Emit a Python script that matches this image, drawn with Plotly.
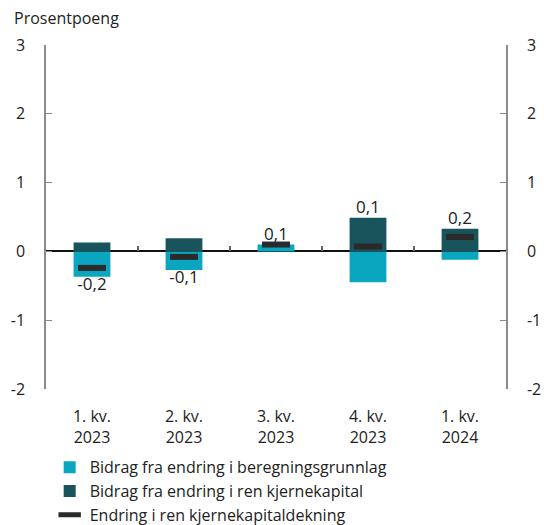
import plotly.graph_objects as go

categories = ["1. kv.<br>2023", "2. kv.<br>2023", "3. kv.<br>2023", "4. kv.<br>2023", "1. kv.<br>2024"]
grunnlag = [-0.37, -0.27, 0.10, -0.45, -0.12]
kjernekapital = [0.13, 0.19, 0.00, 0.49, 0.33]
dekning = [-0.24, -0.08, 0.10, 0.07, 0.21]
y_ticks = [-2, -1, 0, 1, 2, 3]

LIGHT = "#0aa5be"
DARK = "#19535b"
MARK = "#2a2a2a"
TXT = "#222222"
FONT = "Open Sans"

def fmt(v):
    return f"{v:.1f}".replace(".", ",")

label_y = []
label_pos = []
for g, k, d in zip(grunnlag, kjernekapital, dekning):
    pos = max(g, 0) + max(k, 0)
    neg = min(g, 0) + min(k, 0)
    if d >= 0:
        label_y.append(pos)
        label_pos.append("top center")
    else:
        label_y.append(neg)
        label_pos.append("bottom center")

fig = go.Figure()
fig.add_trace(go.Bar(x=categories, y=grunnlag, name="Bidrag fra endring i beregningsgrunnlag",
                     marker=dict(color=LIGHT, line=dict(width=0)), width=0.4))
fig.add_trace(go.Bar(x=categories, y=kjernekapital, name="Bidrag fra endring i ren kjernekapital",
                     marker=dict(color=DARK, line=dict(width=0)), width=0.4))
fig.add_trace(go.Scatter(x=categories, y=dekning, name="Endring i ren kjernekapitaldekning",
                         mode="markers", xaxis="x2",
                         marker=dict(symbol="line-ew", size=20, color=MARK,
                                     line=dict(width=6, color=MARK))))
fig.add_trace(go.Scatter(x=categories, y=label_y, mode="text", text=[fmt(v) for v in dekning],
                         textposition=label_pos, textfont=dict(size=17, color=TXT, family=FONT),
                         showlegend=False, hoverinfo="skip", cliponaxis=False))
fig.add_trace(go.Scatter(x=categories, y=dekning, yaxis="y2", mode="markers",
                         marker=dict(opacity=0), showlegend=False, hoverinfo="skip"))

fig.update_layout(
    width=544, height=525,
    margin=dict(l=46, r=38, t=45, b=136, autoexpand=False),
    barmode="relative",
    plot_bgcolor="white", paper_bgcolor="white",
    font=dict(family=FONT, size=16, color=TXT),
    xaxis=dict(type="category", categoryorder="array", categoryarray=categories,
               showline=False, showgrid=False, ticks="", tickfont=dict(size=16, color=TXT),
               ticklabelstandoff=16, range=[-0.5, 4.5]),
    xaxis2=dict(type="category", categoryorder="array", categoryarray=categories,
                overlaying="x", anchor="free", position=0.4, side="bottom",
                showline=False, showgrid=False, showticklabels=False,
                ticks="inside", tickson="boundaries", ticklen=5, tickcolor="#666666", tickwidth=1.5,
                range=[-0.5, 4.5]),
    yaxis=dict(range=[-2, 3], tickvals=y_ticks, ticktext=[str(v) for v in y_ticks],
               showgrid=False, showline=True, linecolor="#8a8a8a", linewidth=1.5,
               ticks="inside", ticklen=6, tickcolor="#8a8a8a", ticklabelstandoff=16,
               zeroline=True, zerolinecolor="#111111", zerolinewidth=1.5,
               tickfont=dict(size=16, color=TXT)),
    yaxis2=dict(range=[-2, 3], tickvals=y_ticks, ticktext=[str(v) for v in y_ticks],
                overlaying="y", side="right", showgrid=False, showline=True,
                linecolor="#8a8a8a", linewidth=1.5, ticks="inside", ticklen=6, tickcolor="#8a8a8a",
                ticklabelstandoff=16, zeroline=False, tickfont=dict(size=16, color=TXT)),
    legend=dict(orientation="v", x=0.008, xanchor="left", y=-0.178, yanchor="top",
                font=dict(size=16, color=TXT), traceorder="normal", itemwidth=30,
                bgcolor="rgba(0,0,0,0)", tracegroupgap=0),
    annotations=[dict(text="Prosentpoeng", xref="paper", yref="paper", x=-0.074, xanchor="left",
                      y=1.0, yshift=14, yanchor="bottom", showarrow=False,
                      font=dict(size=16, color=TXT))],
)

fig.write_html("out.html", config={"displayModeBar": False},
               post_script="document.body.style.margin='0px';document.body.style.overflow='hidden';")
